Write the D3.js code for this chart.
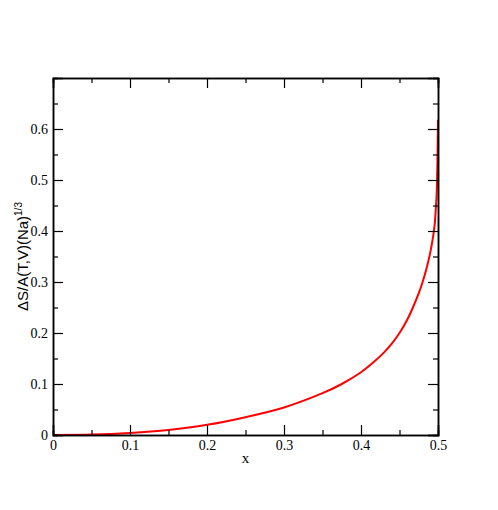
<!DOCTYPE html>
<html>
<head>
<meta charset="utf-8">
<script src="https://cdn.jsdelivr.net/npm/d3@7"></script>
<style>
  body { margin: 0; background: #fff; }
  svg { display: block; }
</style>
</head>
<body>
<svg class="chart" width="498" height="510"></svg>
<script>
//------------------------------------------------------------------------------
//Data
//------------------------------------------------------------------------------
var xValues = [0, 0.05, 0.1, 0.15, 0.2, 0.25, 0.3, 0.35, 0.375, 0.4, 0.415, 0.43, 0.44, 0.45, 0.46, 0.468, 0.475, 0.48, 0.485, 0.49, 0.4935, 0.4955, 0.497, 0.4983, 0.4992, 0.5];
var yValues = [0, 0.0008, 0.004, 0.01, 0.02, 0.035, 0.054, 0.082, 0.100, 0.123, 0.141, 0.162, 0.179, 0.200, 0.226, 0.252, 0.278, 0.300, 0.326, 0.358, 0.388, 0.410, 0.440, 0.474, 0.530, 0.618];
var xTicks = [0, 0.1, 0.2, 0.3, 0.4, 0.5];
var yTicks = [0, 0.1, 0.2, 0.3, 0.4, 0.5, 0.6];
var xMinor = [0.05, 0.15, 0.25, 0.35, 0.45];
var yMinor = [0.05, 0.15, 0.25, 0.35, 0.45, 0.55, 0.65];

//------------------------------------------------------------------------------
//Chart
//------------------------------------------------------------------------------
var svg = d3.select(".chart");
var pLeft = 53, pRight = 438, pTop = 78, pBottom = 435;

var x = d3.scaleLinear().domain([0, 0.5]).range([pLeft, pRight]);
var y = d3.scaleLinear().domain([0, 0.7]).range([pBottom, pTop]);

var serif = "'Liberation Serif', 'Times New Roman', serif";
var fmt = function (d) { return d === 0 ? "0" : d3.format(".1f")(d); };

// curve first so the frame sits on top
var line = d3.line()
  .x(function (d, i) { return x(xValues[i]); })
  .y(function (d, i) { return y(yValues[i]); })
  .curve(d3.curveCatmullRom.alpha(0.5));

svg.append("path")
  .datum(yValues)
  .attr("d", line)
  .attr("fill", "none")
  .attr("stroke", "#ff0000")
  .attr("stroke-width", 2);

// bottom axis (ticks inward)
var xAxis = svg.append("g")
  .attr("transform", "translate(0," + pBottom + ")")
  .call(d3.axisBottom(x).tickValues(xTicks).tickSize(-10).tickPadding(5).tickFormat(fmt));
xAxis.append("g")
  .call(d3.axisBottom(x).tickValues(xMinor).tickSize(-5).tickFormat(""));

// top mirror
var xTop = svg.append("g")
  .attr("transform", "translate(0," + pTop + ")")
  .call(d3.axisTop(x).tickValues(xTicks).tickSize(-10).tickFormat(""));
xTop.append("g")
  .call(d3.axisTop(x).tickValues(xMinor).tickSize(-5).tickFormat(""));

// left axis
var yAxis = svg.append("g")
  .attr("transform", "translate(" + pLeft + ",0)")
  .call(d3.axisLeft(y).tickValues(yTicks).tickSize(-10).tickPadding(5).tickFormat(fmt));
yAxis.append("g")
  .call(d3.axisLeft(y).tickValues(yMinor).tickSize(-5).tickFormat(""));

// right mirror
var yRight = svg.append("g")
  .attr("transform", "translate(" + pRight + ",0)")
  .call(d3.axisRight(y).tickValues(yTicks).tickSize(-10).tickFormat(""));
yRight.append("g")
  .call(d3.axisRight(y).tickValues(yMinor).tickSize(-5).tickFormat(""));

svg.selectAll(".domain").attr("stroke", "#000").attr("stroke-width", 1.5);
svg.selectAll(".tick line").attr("stroke", "#000").attr("stroke-width", 1.2);
svg.selectAll(".tick text")
  .attr("fill", "#000")
  .style("font-family", serif)
  .style("font-size", "14px");

// axis titles
svg.append("text")
  .attr("x", (pLeft + pRight) / 2)
  .attr("y", 463)
  .attr("text-anchor", "middle")
  .style("font-family", serif)
  .style("font-size", "15px")
  .text("x");

var yLabel = svg.append("text")
  .attr("transform", "translate(28," + ((pTop + pBottom) / 2) + ") rotate(-90)")
  .attr("text-anchor", "middle")
  .style("font-family", "'Liberation Sans', Arial, sans-serif")
  .style("font-size", "15px");
yLabel.append("tspan").text("\u0394S/A(T,V)(Na)");
yLabel.append("tspan").attr("dy", -6).style("font-size", "10px").text("1/3");
</script>
</body>
</html>
